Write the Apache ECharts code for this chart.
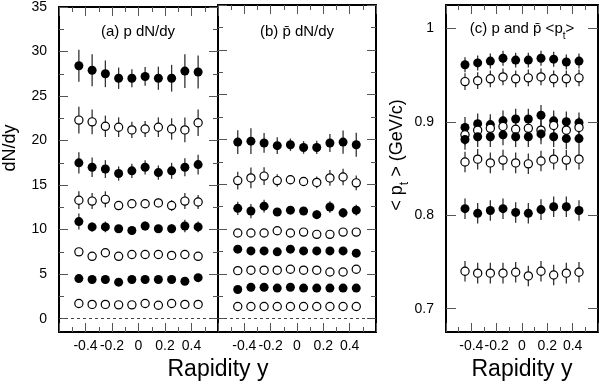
<!DOCTYPE html>
<html><head><meta charset="utf-8">
<script src="https://cdn.jsdelivr.net/npm/echarts@6/dist/echarts.min.js"></script>
<style>html,body{margin:0;padding:0;background:#fff}#c{width:600px;height:387px}</style>
</head><body><div id="c"></div>
<script>
// ---------- data ----------
const rapidity = [-0.45,-0.35,-0.25,-0.15,-0.05,0.05,0.15,0.25,0.35,0.45];
const xTickLabels = ['-0.4','-0.2','0','0.2','0.4'];
const yieldTickLabels = [0,5,10,15,20,25,30,35];
const ptTickLabels = [0.7,0.8,0.9,1];
const rowFilled = [true,false,true,false,true,false,true,false];

// (a) p dN/dy
const pYield = [
  [28.4,27.9,27.5,27.0,27.0,27.2,27.0,27.0,27.8,27.7],
  [22.3,22.1,21.6,21.5,21.2,21.3,21.5,21.3,21.2,22.0],
  [17.5,17.0,16.8,16.3,16.6,17.0,16.4,16.6,17.0,17.3],
  [13.3,13.2,13.4,12.7,12.9,12.9,13.0,12.7,13.2,13.1],
  [10.9,10.3,10.3,10.1,9.9,10.4,10.1,10.1,10.4,10.3],
  [7.5,7.0,7.4,7.0,7.2,7.2,7.2,7.1,7.2,7.0],
  [4.5,4.4,4.4,4.1,4.4,4.4,4.4,4.4,4.2,4.6],
  [1.7,1.6,1.6,1.55,1.55,1.7,1.5,1.7,1.6,1.6]
];
const pYieldErr = [
  [1.8,1.8,1.5,1.2,1.0,1.05,1.3,1.5,1.9,1.85],
  [1.5,1.4,1.2,1.1,0.9,0.9,1.1,1.2,1.4,1.5],
  [1.2,1.1,1.0,0.8,0.8,0.8,0.8,0.9,1.0,1.1],
  [1.0,0.9,0.9,0.4,0.4,0.4,0.5,0.6,0.9,0.8],
  [0.9,0.5,0.6,0.4,0.3,0.5,0.4,0.5,0.7,0.6],
  [0.4,0.3,0.4,0.3,0.3,0.3,0.3,0.3,0.3,0.3],
  [0.3,0.3,0.3,0.3,0.3,0.3,0.3,0.3,0.3,0.3],
  [0.2,0.2,0.2,0.2,0.2,0.2,0.2,0.2,0.2,0.2]
];
// (b) pbar dN/dy
const pbarYield = [
  [19.7,19.8,19.6,19.3,19.4,19.1,19.1,19.6,19.7,19.4],
  [15.4,15.7,15.9,15.4,15.5,15.3,15.2,15.7,15.8,15.15],
  [12.3,12.0,12.55,11.9,12.1,12.0,11.6,12.45,11.8,12.1],
  [9.55,9.55,9.55,9.8,9.55,9.65,9.4,9.4,9.65,9.65],
  [7.75,7.55,7.55,7.45,7.75,7.55,7.55,7.55,7.55,7.3],
  [5.35,5.4,5.4,5.4,5.5,5.4,5.4,5.2,5.2,5.5],
  [3.25,3.5,3.5,3.4,3.5,3.4,3.4,3.4,3.4,3.4],
  [1.35,1.35,1.35,1.35,1.35,1.35,1.35,1.35,1.35,1.35]
];
const pbarYieldErr = [
  [1.33,1.43,1.1,0.93,0.69,0.7,0.74,1.0,1.3,1.35],
  [1.0,1.15,1.0,0.7,0.5,0.45,0.65,0.87,0.92,0.83],
  [0.74,0.8,0.7,0.4,0.35,0.35,0.5,0.65,0.55,0.6],
  [0.45,0.45,0.45,0.45,0.45,0.45,0.45,0.45,0.45,0.45],
  [0.3,0.3,0.3,0.3,0.3,0.3,0.3,0.3,0.3,0.3],
  [0.3,0.3,0.3,0.3,0.3,0.3,0.3,0.3,0.3,0.3],
  [0.2,0.2,0.2,0.2,0.2,0.2,0.2,0.2,0.2,0.2],
  [0.2,0.2,0.2,0.2,0.2,0.2,0.2,0.2,0.2,0.2]
];
// (c) <pt>
const meanPt = [
  [0.961,0.963,0.965,0.968,0.966,0.966,0.968,0.967,0.964,0.965],
  [0.943,0.944,0.946,0.948,0.946,0.947,0.948,0.946,0.946,0.947],
  [0.894,0.898,0.897,0.901,0.903,0.903,0.907,0.901,0.900,0.899],
  [0.886,0.891,0.893,0.895,0.892,0.893,0.891,0.896,0.891,0.894],
  [0.881,0.884,0.884,0.886,0.884,0.884,0.887,0.884,0.882,0.882],
  [0.857,0.860,0.856,0.859,0.856,0.855,0.858,0.860,0.859,0.860],
  [0.807,0.802,0.805,0.807,0.803,0.802,0.806,0.809,0.809,0.805],
  [0.740,0.738,0.738,0.738,0.739,0.735,0.740,0.736,0.738,0.739]
];
const meanPtErr = [
  [0.008,0.008,0.008,0.008,0.008,0.008,0.008,0.008,0.008,0.008],
  [0.009,0.009,0.009,0.009,0.009,0.009,0.009,0.009,0.009,0.009],
  [0.011,0.011,0.011,0.011,0.011,0.011,0.011,0.011,0.011,0.011],
  [0.011,0.011,0.011,0.011,0.011,0.011,0.011,0.011,0.011,0.011],
  [0.011,0.011,0.011,0.011,0.011,0.011,0.011,0.011,0.011,0.011],
  [0.011,0.011,0.011,0.011,0.011,0.011,0.011,0.011,0.011,0.011],
  [0.011,0.011,0.011,0.011,0.011,0.011,0.011,0.011,0.011,0.011],
  [0.011,0.011,0.011,0.011,0.011,0.011,0.011,0.011,0.011,0.011]
];

// ---------- chart ----------
const FONT = '"Liberation Sans", Arial, Helvetica, sans-serif';
const TICK = '#555';
const chart = echarts.init(document.getElementById('c'), null, {renderer:'canvas'});

function xAx(g, pos, labels){
  return {type:'value', gridIndex:g, position:pos, min:-0.6, max:0.6, interval:0.2,
    axisLine:{show:true, onZero:false, lineStyle:{color:'#000', width:2}},
    axisTick:{show:true, inside:true, length:9, lineStyle:{color:TICK, width:1}},
    minorTick:{show:true, splitNumber:2, length:5, lineStyle:{color:TICK, width:1}},
    splitLine:{show:false}, minorSplitLine:{show:false},
    axisLabel:{show:labels, showMinLabel:false, showMaxLabel:false, margin:7,
      fontSize:14, color:'#000', fontFamily:FONT,
      formatter:v=>{const i=Math.round((v+0.4)/0.2); return xTickLabels[i]!==undefined?xTickLabels[i]:'';}}
  };
}
function yAx(g, pos, len, lineShow, labels, min, max, values){
  return {type:'value', gridIndex:g, position:pos, min:min, max:max,
    axisLine:{show:lineShow, onZero:false, lineStyle:{color:'#000', width:2}},
    axisTick:{show:true, inside:true, length:len, customValues:values, lineStyle:{color:TICK, width:1}},
    splitLine:{show:false},
    axisLabel:{show:labels, customValues:values, margin:12, fontSize:14, color:'#000', fontFamily:FONT}
  };
}
const yMajor = yieldTickLabels;
const yMinor = yieldTickLabels.slice(0,-1).map(v=>v+2.5);

const xAxes = [];
[0,1,2].forEach(g=>{ xAxes.push(xAx(g,'bottom',true)); xAxes.push(xAx(g,'top',false)); });
const yAxes = [
  yAx(0,'left',9,true,true,-1.5,35,yMajor), yAx(0,'left',5,false,false,-1.5,35,yMinor),
  yAx(0,'right',9,true,false,-1.5,35,yMajor), yAx(0,'right',5,false,false,-1.5,35,yMinor),
  yAx(1,'left',9,true,false,-1.5,35,yMajor), yAx(1,'left',5,false,false,-1.5,35,yMinor),
  yAx(1,'right',9,true,false,-1.5,35,yMajor), yAx(1,'right',5,false,false,-1.5,35,yMinor),
  yAx(2,'left',10,true,true,0.675,1.025,ptTickLabels),
  yAx(2,'right',10,true,false,0.675,1.025,ptTickLabels)
];

function errRender(params, api){
  const x = api.value(0), y = api.value(1), e = api.value(2);
  const p1 = api.coord([x, y+e]), p2 = api.coord([x, y-e]);
  return {type:'line', shape:{x1:p1[0], y1:p1[1], x2:p2[0], y2:p2[1]},
    style:{stroke:'#333', lineWidth:1.3}};
}

const panels = [
  {xi:0, yi:0, vals:pYield, errs:pYieldErr, zero:true},
  {xi:2, yi:4, vals:pbarYield, errs:pbarYieldErr, zero:true},
  {xi:4, yi:8, vals:meanPt, errs:meanPtErr, zero:false}
];
const series = [];
panels.forEach(p=>{
  p.vals.forEach((row, r)=>{
    const filled = rowFilled[r];
    series.push({type:'custom', xAxisIndex:p.xi, yAxisIndex:p.yi, z:2, silent:true,
      renderItem:errRender,
      data: row.map((v,i)=>[rapidity[i], v, p.errs[r][i]])});
    const s = {type:'scatter', xAxisIndex:p.xi, yAxisIndex:p.yi, z:3, silent:true,
      symbol:'circle', symbolSize: filled?9:8.2,
      itemStyle:{color: filled?'#000':'#fff', borderColor:'#000', borderWidth: filled?0:1.2, opacity:1},
      emphasis:{disabled:true},
      data: row.map((v,i)=>[rapidity[i], v])};
    if (p.zero && r===0){
      s.markLine = {silent:true, symbol:'none', label:{show:false}, animation:false,
        lineStyle:{type:[3,3], color:'#444', width:1}, data:[{yAxis:0}]};
    }
    series.push(s);
  });
});

function txt(x, y, text, size, rot, rich){
  const st = {text:text, fill:'#000', font: size+'px '+FONT, fontSize:size, fontFamily:FONT,
    align:'center', verticalAlign:'middle', textAlign:'center', textVerticalAlign:'middle'};
  if (rich) st.rich = rich;
  return {type:'text', x:x, y:y, rotation:rot||0, silent:true, style:st};
}
const richPt = (fs)=>({
  m:{fontSize:fs, fontFamily:FONT, color:'#000', lineHeight:fs+2, verticalAlign:'middle'},
  s:{fontSize:Math.round(fs*0.65), fontFamily:FONT, color:'#000', lineHeight:fs+9, verticalAlign:'bottom'}
});

const option = {
  animation:false,
  backgroundColor:'#fff',
  grid:[
    {left:59, top:5, width:159, height:327},
    {left:218, top:5, width:158, height:327},
    {left:446, top:5, width:152, height:327}
  ],
  xAxis:xAxes,
  yAxis:yAxes,
  series:series,
  graphic:[
    txt(138, 32, '(a) p dN/dy', 15),
    txt(297, 32, '(b) p\u0304 dN/dy', 15),
    txt(522, 29, '{m|(c) p and p\u0304 <p}{s|t}{m|>}', 15, 0, richPt(15)),
    txt(10, 148, 'dN/dy', 18, Math.PI/2),
    txt(397, 155, '{m|< p}{s|t}{m| > (GeV/c)}', 18, Math.PI/2, richPt(18)),
    txt(218, 370, 'Rapidity y', 23),
    txt(522, 370, 'Rapidity y', 23)
  ]
};
chart.setOption(option);
</script></body></html>
